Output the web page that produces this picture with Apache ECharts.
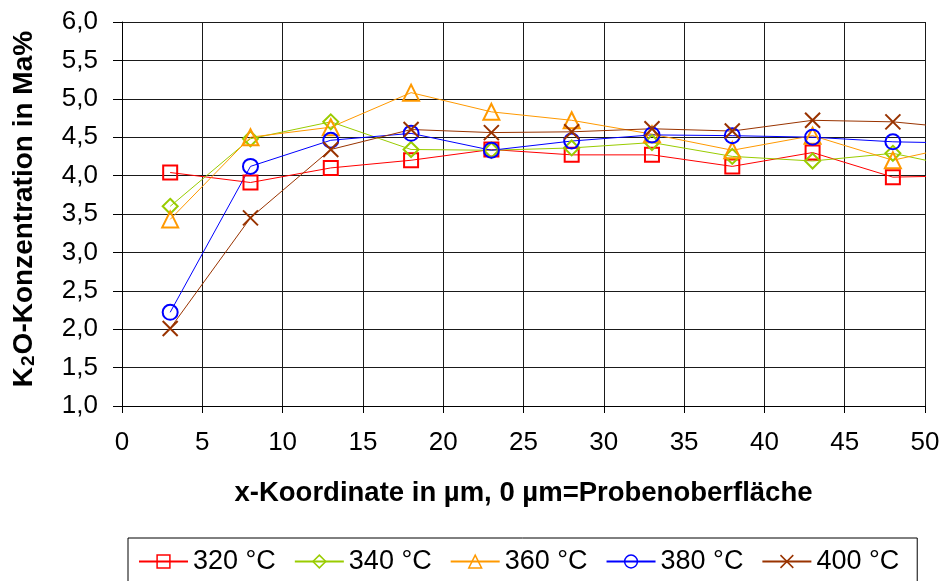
<!DOCTYPE html>
<html>
<head>
<meta charset="utf-8">
<script src="https://cdn.jsdelivr.net/npm/echarts@6/dist/echarts.min.js"></script>
<style>
html, body { margin: 0; padding: 0; background: #fff; }
#chart { width: 942px; height: 581px; }
</style>
</head>
<body>
<div id="chart"></div>
<script>
// Measuring positions (µm from the sample surface)
const xPositions = [3, 8, 13, 18, 23, 28, 33, 38, 43, 48, 53];

// K2O concentration (mass %) per annealing temperature
const k2o320 = [4.04, 3.91, 4.10, 4.20, 4.34, 4.27, 4.27, 4.12, 4.30, 3.98, 4.00];
const k2o340 = [3.60, 4.48, 4.70, 4.34, 4.33, 4.36, 4.43, 4.25, 4.19, 4.29, 4.07];
const k2o360 = [3.43, 4.50, 4.63, 5.08, 4.83, 4.72, 4.54, 4.33, 4.52, 4.20, 4.43];
const k2o380 = [2.22, 4.12, 4.46, 4.55, 4.33, 4.45, 4.53, 4.52, 4.50, 4.44, 4.42];
const k2o400 = [2.01, 3.45, 4.34, 4.60, 4.56, 4.57, 4.61, 4.58, 4.72, 4.70, 4.60];

const seriesNames = ['320 °C', '340 °C', '360 °C', '380 °C', '400 °C'];
const seriesValues = [k2o320, k2o340, k2o360, k2o380, k2o400];

const FONT = 'Liberation Sans, Arial, sans-serif';

// marker look for each temperature
const looks = [
  { color: '#FF0000', symbol: 'rect', size: 14 },
  { color: '#99CC00', symbol: 'diamond', size: 15 },
  { color: '#FF9900', symbol: 'triangle', size: 16 },
  { color: '#0000FF', symbol: 'circle', size: 15 },
  { color: '#993300', symbol: 'path://M0 0L10 10M10 0L0 10', size: 15 }
];

const series = seriesNames.map((name, i) => ({
  name: name,
  type: 'line',
  data: xPositions.map((x, j) => [x, seriesValues[i][j]]),
  symbol: looks[i].symbol,
  symbolSize: looks[i].size,
  showAllSymbol: true,
  clip: false,
  lineStyle: { color: looks[i].color, width: 1 },
  itemStyle: { color: 'rgba(0,0,0,0)', borderColor: looks[i].color, borderWidth: 2 },
  emphasis: { disabled: true },
  animation: false
}));

const chart = echarts.init(document.getElementById('chart'), null, { renderer: 'canvas' });
chart.setOption({
  backgroundColor: '#fff',
  animation: false,
  grid: { left: 122, top: 22, width: 803, height: 384, containLabel: false, outerBoundsMode: 'none' },
  xAxis: {
    type: 'value',
    min: 0, max: 50, interval: 5,
    name: 'x-Koordinate in µm, 0 µm=Probenoberfläche',
    nameLocation: 'middle',
    nameGap: 73,
    nameTextStyle: { fontFamily: FONT, fontSize: 27.5, fontWeight: 'bold', color: '#000' },
    axisLine: { show: true, lineStyle: { color: '#000', width: 1 } },
    axisTick: { show: true, length: 7, lineStyle: { color: '#000' } },
    axisLabel: { fontFamily: FONT, fontSize: 26, color: '#000', margin: 24 },
    splitLine: { show: true, lineStyle: { color: '#1a1a1a', width: 1 } }
  },
  yAxis: {
    type: 'value',
    min: 1, max: 6, interval: 0.5,
    name: '{a|K}{s|2}{a|O-Konzentration in Ma%}',
    nameLocation: 'middle',
    nameGap: 84,
    nameTextStyle: {
      fontFamily: FONT, fontSize: 28, fontWeight: 'bold', color: '#000',
      padding: [0, 0, 0, 10],
      rich: {
        a: { fontFamily: FONT, fontSize: 28, fontWeight: 'bold', color: '#000' },
        s: { fontFamily: FONT, fontSize: 19, fontWeight: 'bold', color: '#000', verticalAlign: 'bottom', padding: [0, 1, 0, 1] }
      }
    },
    axisLine: { show: true, lineStyle: { color: '#000', width: 1 } },
    axisTick: { show: true, length: 9, lineStyle: { color: '#000' } },
    axisLabel: {
      fontFamily: FONT, fontSize: 26, color: '#000', margin: 24,
      formatter: v => v.toFixed(1).replace('.', ',')
    },
    splitLine: { show: true, lineStyle: { color: '#1a1a1a', width: 1 } }
  },
  legend: {
    left: 128, top: 538,
    orient: 'horizontal',
    itemWidth: 49, itemHeight: 16, itemGap: 18,
    padding: [10, 18, 10, 10],
    borderColor: '#000', borderWidth: 1,
    selectedMode: false,
    itemStyle: { borderWidth: 1.5 },
    textStyle: { fontFamily: FONT, fontSize: 27, color: '#000' },
    data: seriesNames
  },
  series: series
});
</script>
</body>
</html>
